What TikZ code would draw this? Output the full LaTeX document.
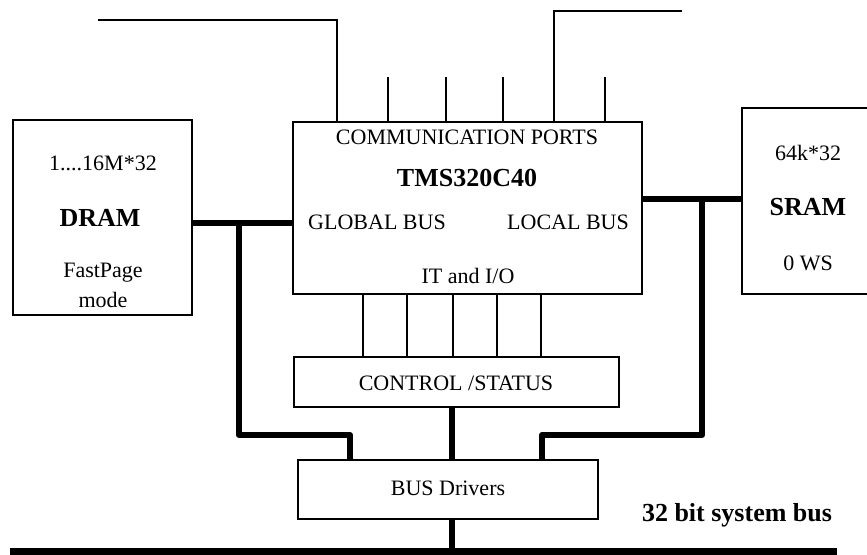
\documentclass[tikz,border=0pt]{standalone}
\usepackage{fontspec}
\setmainfont{Liberation Serif}
\usetikzlibrary{calc}

\begin{document}
\begin{tikzpicture}[x=0.5pt, y=0.5pt,
  box/.style={draw, line width=1pt, inner sep=0pt},
  lbl/.style={inner sep=0pt, font=\fontsize{11}{13}\selectfont},
  blbl/.style={inner sep=0pt, font=\fontsize{13}{15}\selectfont\bfseries},
  wire/.style={line width=0.75pt},
  bus/.style={line width=3pt, line join=round}]

  \useasboundingbox (0, 0) rectangle (867, -555);

  \node[box, minimum width=89.5pt, minimum height=97.5pt] (dram) at (102.5, -217.5) {};
  \node[box, minimum width=174.5pt, minimum height=86pt] (cpu) at (467.5, -208) {};
  \node[box, minimum width=65pt, minimum height=93pt] (sram) at (807, -201) {};
  \node[box, minimum width=162.5pt, minimum height=25pt] (ctrl) at (456.5, -382) {};
  \node[box, minimum width=150pt, minimum height=29.5pt] (drv) at (448, -489.5) {};

  \node[lbl] (dsize) at (103, -163) {1....16M*32};
  \node[blbl] (dname) at (100, -218) {DRAM};
  \node[lbl] (dmode) at (103, -273) {FastPage};
  \node[lbl] (dmode2) at (103, -300) {mode};

  \node[lbl] (comm) at (467, -137) {COMMUNICATION PORTS};
  \node[blbl] (cname) at (467, -178) {TMS320C40};
  \node[lbl] (gbus) at (377, -222) {GLOBAL BUS};
  \node[lbl] (lbus) at (568, -222) {LOCAL BUS};
  \node[lbl] (itio) at (468, -276) {IT and I/O};

  \node[lbl] (ssize) at (808, -153) {64k*32};
  \node[blbl] (sname) at (808, -207) {SRAM};
  \node[lbl] (sws) at (808, -263) {0 WS};

  \node[lbl] (ctxt) at (456, -383) {CONTROL /STATUS};
  \node[lbl] (btxt) at (448, -488) {BUS Drivers};
  \node[blbl] (systxt) at (737, -515) {32 bit system bus};

  \coordinate (cl) at (98, -20);
  \coordinate (cb) at (337, -20);
  \draw[wire] (cl) -- (cb) -- (cb |- cpu.north);
  \coordinate (cr) at (682, -11);
  \coordinate (ct) at (554, -11);
  \draw[wire] (cr) -- (ct) -- (ct |- cpu.north);
  \foreach \x in {388, 446, 503, 605} {
    \coordinate (p) at (\x, -77);
    \draw[wire] (p) -- (p |- cpu.north);
  }
  \foreach \x in {363, 407, 453, 497, 541} {
    \coordinate (io) at (\x, 0);
    \draw[wire] (io |- cpu.south) -- (io |- ctrl.north);
  }

  \coordinate (gj) at (239, -223);
  \coordinate (gb) at (350, -435);
  \draw[bus] (dram.east |- gj) -- (cpu.west |- gj);
  \draw[bus] (gj) |- (gb) -- (gb |- drv.north);
  \coordinate (lj) at (702, -199);
  \coordinate (lb) at (542, -435);
  \draw[bus] (cpu.east |- lj) -- (sram.west |- lj);
  \draw[bus] (lj) |- (lb) -- (lb |- drv.north);
  \coordinate (cx) at (452, 0);
  \draw[bus] (cx |- ctrl.south) -- (cx |- drv.north);
  \coordinate (sl) at (10, -551);
  \coordinate (sr) at (837, -551);
  \draw[bus, line width=3.5pt] (sl) -- (sr);
  \draw[bus] (cx |- drv.south) -- (cx |- sl);

\end{tikzpicture}
\end{document}
